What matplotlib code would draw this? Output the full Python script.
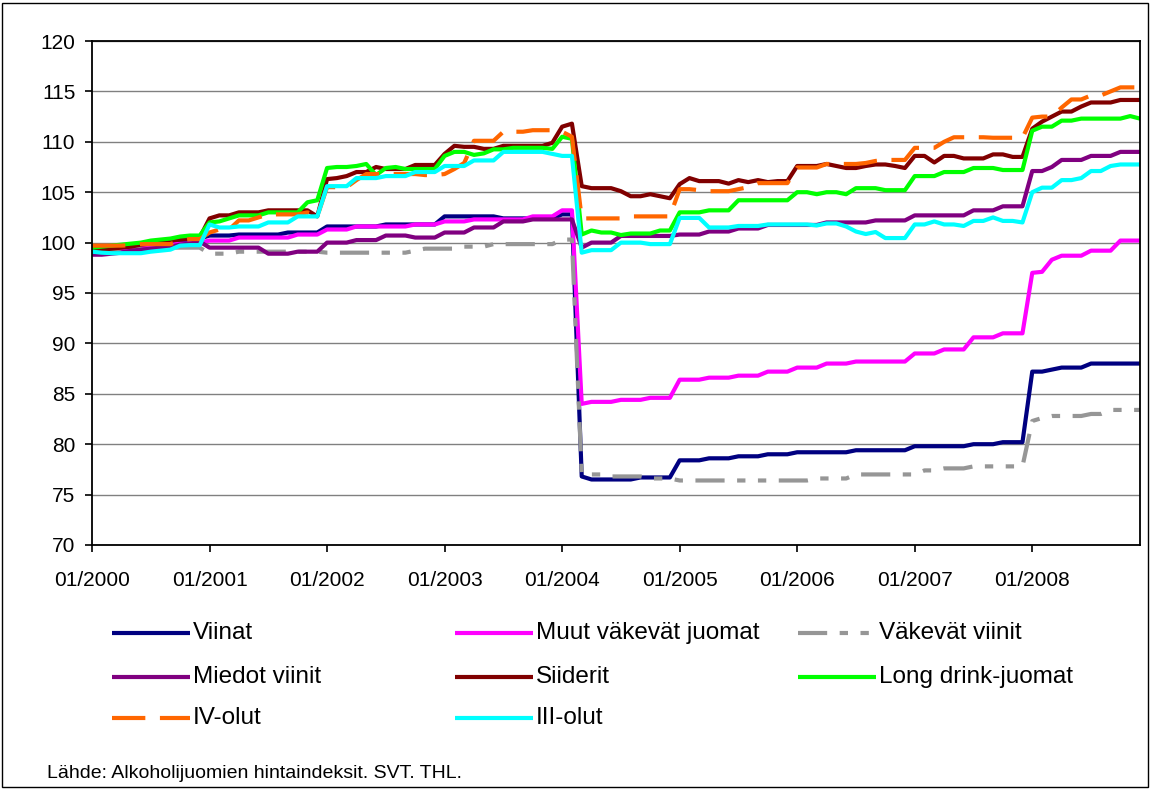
import matplotlib
matplotlib.use("Agg")
import matplotlib.pyplot as plt
from matplotlib.lines import Line2D
from matplotlib.patches import Rectangle

plt.rcParams['font.family'] = ['Liberation Sans', 'DejaVu Sans']

months = [f"{m:02d}/{y}" for y in range(2000, 2009) for m in range(1, 13)]
tick_labels = ["01/2000", "01/2001", "01/2002", "01/2003", "01/2004",
               "01/2005", "01/2006", "01/2007", "01/2008"]

viinat = [
    99.0, 99.0, 99.2, 99.3, 99.5, 99.8, 100.0, 100.0, 100.0, 100.2, 100.3, 100.4,
    100.7, 100.7, 100.7, 100.8, 100.8, 100.8, 100.8, 100.8, 101.0, 101.0, 101.0, 101.0,
    101.6, 101.6, 101.6, 101.6, 101.6, 101.6, 101.8, 101.8, 101.8, 101.8, 101.8, 101.8,
    102.6, 102.6, 102.6, 102.6, 102.6, 102.6, 102.4, 102.4, 102.4, 102.4, 102.4, 102.4,
    102.8, 102.8, 76.8, 76.5, 76.5, 76.5, 76.5, 76.5, 76.7, 76.7, 76.7, 76.7,
    78.4, 78.4, 78.4, 78.6, 78.6, 78.6, 78.8, 78.8, 78.8, 79.0, 79.0, 79.0,
    79.2, 79.2, 79.2, 79.2, 79.2, 79.2, 79.4, 79.4, 79.4, 79.4, 79.4, 79.4,
    79.8, 79.8, 79.8, 79.8, 79.8, 79.8, 80.0, 80.0, 80.0, 80.2, 80.2, 80.2,
    87.2, 87.2, 87.4, 87.6, 87.6, 87.6, 88.0, 88.0, 88.0, 88.0, 88.0, 88.0]

muut_vakevat = [
    99.2, 99.2, 99.3, 99.4, 99.5, 99.6, 99.7, 99.8, 99.8, 99.9, 99.9, 100.0,
    100.2, 100.2, 100.2, 100.5, 100.5, 100.5, 100.5, 100.5, 100.5, 100.8, 100.8, 100.8,
    101.3, 101.3, 101.3, 101.6, 101.6, 101.6, 101.6, 101.6, 101.6, 101.8, 101.8, 101.8,
    102.1, 102.1, 102.1, 102.3, 102.3, 102.3, 102.3, 102.3, 102.3, 102.6, 102.6, 102.6,
    103.2, 103.2, 84.0, 84.2, 84.2, 84.2, 84.4, 84.4, 84.4, 84.6, 84.6, 84.6,
    86.4, 86.4, 86.4, 86.6, 86.6, 86.6, 86.8, 86.8, 86.8, 87.2, 87.2, 87.2,
    87.6, 87.6, 87.6, 88.0, 88.0, 88.0, 88.2, 88.2, 88.2, 88.2, 88.2, 88.2,
    89.0, 89.0, 89.0, 89.4, 89.4, 89.4, 90.6, 90.6, 90.6, 91.0, 91.0, 91.0,
    97.0, 97.1, 98.3, 98.7, 98.7, 98.7, 99.2, 99.2, 99.2, 100.2, 100.2, 100.2]

vakevat_viinit = [
    99.3, 99.3, 99.3, 99.3, 99.4, 99.4, 99.4, 99.4, 99.5, 99.5, 99.5, 99.5,
    98.9, 98.9, 98.9, 99.1, 99.1, 99.1, 99.1, 99.1, 99.1, 99.1, 99.1, 99.1,
    99.0, 99.0, 99.0, 99.0, 99.0, 99.0, 99.0, 99.0, 99.0, 99.2, 99.4, 99.4,
    99.4, 99.4, 99.6, 99.6, 99.6, 99.85, 99.85, 99.85, 99.85, 99.85, 99.85, 99.85,
    100.3, 100.3, 77.0, 77.0, 77.0, 76.8, 76.8, 76.8, 76.8, 76.6, 76.6, 76.6,
    76.4, 76.4, 76.4, 76.4, 76.4, 76.4, 76.4, 76.4, 76.4, 76.4, 76.4, 76.4,
    76.4, 76.4, 76.6, 76.6, 76.6, 76.6, 77.0, 77.0, 77.0, 77.0, 77.0, 77.0,
    77.0, 77.4, 77.4, 77.6, 77.6, 77.6, 77.8, 77.8, 77.8, 77.8, 77.8, 77.8,
    82.3, 82.6, 82.8, 82.8, 82.8, 82.8, 83.0, 83.0, 83.4, 83.4, 83.4, 83.4]

miedot_viinit = [
    98.8, 98.8, 98.9, 99.0, 99.2, 99.3, 99.4, 99.5, 99.6, 99.8, 99.9, 100.1,
    99.5, 99.5, 99.5, 99.5, 99.5, 99.5, 98.9, 98.9, 98.9, 99.1, 99.1, 99.1,
    100.0, 100.0, 100.0, 100.25, 100.25, 100.25, 100.7, 100.7, 100.7, 100.5, 100.5, 100.5,
    101.0, 101.0, 101.0, 101.5, 101.5, 101.5, 102.1, 102.1, 102.1, 102.3, 102.3, 102.3,
    102.3, 102.3, 99.5, 100.0, 100.0, 100.0, 100.66, 100.66, 100.66, 100.66, 100.66, 100.66,
    100.8, 100.8, 100.8, 101.1, 101.1, 101.1, 101.4, 101.4, 101.4, 101.75, 101.75, 101.75,
    101.75, 101.75, 101.75, 102.0, 102.0, 102.0, 102.0, 102.0, 102.2, 102.2, 102.2, 102.2,
    102.7, 102.7, 102.7, 102.7, 102.7, 102.7, 103.2, 103.2, 103.2, 103.6, 103.6, 103.6,
    107.1, 107.1, 107.5, 108.2, 108.2, 108.2, 108.6, 108.6, 108.6, 109.0, 109.0, 109.0]

siiderit = [
    99.3, 99.3, 99.4, 99.5, 99.6, 99.8, 99.9, 100.0, 100.2, 100.3, 100.4, 100.5,
    102.4, 102.7, 102.7, 103.0, 103.0, 103.0, 103.2, 103.2, 103.2, 103.2, 103.2, 102.6,
    106.3, 106.4, 106.6, 107.0, 107.0, 107.5, 107.3, 107.3, 107.3, 107.7, 107.7, 107.7,
    108.8, 109.6, 109.5, 109.5, 109.3, 109.3, 109.6, 109.6, 109.6, 109.6, 109.6, 109.9,
    111.5, 111.8, 105.6, 105.4, 105.4, 105.4, 105.1, 104.6, 104.6, 104.8, 104.6, 104.4,
    105.8, 106.4, 106.1, 106.1, 106.1, 105.85, 106.2, 106.0, 106.2, 106.0, 106.1, 106.1,
    107.6, 107.6, 107.6, 107.8, 107.6, 107.4, 107.4, 107.6, 107.75, 107.75, 107.6, 107.4,
    108.6, 108.6, 107.95, 108.6, 108.6, 108.35, 108.35, 108.35, 108.75, 108.75, 108.5, 108.5,
    111.3, 112.0, 112.5, 113.0, 113.0, 113.5, 113.9, 113.9, 113.9, 114.15, 114.15, 114.15]

long_drink = [
    99.5, 99.6, 99.7, 99.8, 99.9, 100.0, 100.2, 100.3, 100.4, 100.6, 100.7, 100.7,
    102.0, 102.1, 102.4, 102.7, 102.7, 102.7, 103.0, 103.0, 103.0, 103.0, 104.0, 104.2,
    107.4, 107.5, 107.5, 107.6, 107.8, 106.7, 107.4, 107.5, 107.3, 107.3, 107.3, 107.3,
    108.6, 109.0, 109.0, 108.7, 108.85, 109.25, 109.25, 109.4, 109.4, 109.4, 109.4, 109.3,
    110.5, 110.3, 100.8, 101.2, 101.0, 101.0, 100.75, 100.9, 100.9, 100.9, 101.2, 101.2,
    103.0, 103.0, 103.0, 103.2, 103.2, 103.2, 104.2, 104.2, 104.2, 104.2, 104.2, 104.2,
    105.0, 105.0, 104.8, 105.0, 105.0, 104.8, 105.4, 105.4, 105.4, 105.2, 105.2, 105.2,
    106.6, 106.6, 106.6, 107.0, 107.0, 107.0, 107.4, 107.4, 107.4, 107.2, 107.2, 107.2,
    111.1, 111.5, 111.5, 112.1, 112.1, 112.3, 112.3, 112.3, 112.3, 112.3, 112.55, 112.3]

iv_olut = [
    99.7, 99.7, 99.7, 99.7, 99.75, 99.85, 99.85, 99.85, 99.85, 100.2, 100.35, 100.35,
    101.0, 101.3, 101.3, 102.2, 102.2, 102.5, 102.8, 102.8, 102.8, 102.8, 103.0, 102.6,
    105.5, 105.5, 105.5, 106.2, 106.8, 106.8, 106.8, 106.8, 106.8, 106.8, 106.7, 106.7,
    106.8, 107.3, 107.9, 110.1, 110.1, 110.1, 111.0, 111.0, 111.0, 111.15, 111.15, 111.15,
    111.0, 110.5, 102.4, 102.4, 102.4, 102.4, 102.4, 102.6, 102.6, 102.6, 102.6, 102.6,
    105.3, 105.3, 105.2, 105.1, 105.1, 105.1, 105.3, 105.5, 105.9, 105.9, 105.9, 105.9,
    107.45, 107.45, 107.45, 107.8, 107.8, 107.8, 107.8, 107.9, 108.1, 108.2, 108.2, 108.2,
    109.4, 109.4, 109.4, 110.0, 110.45, 110.45, 110.45, 110.45, 110.4, 110.4, 110.4, 110.4,
    112.4, 112.5, 112.5, 113.4, 114.2, 114.2, 114.6, 114.6, 115.0, 115.4, 115.4, 115.4]

iii_olut = [
    99.1, 99.0, 98.95, 98.95, 98.95, 98.95, 99.1, 99.2, 99.3, 99.7, 99.75, 99.75,
    101.8, 101.5, 101.5, 101.6, 101.6, 101.6, 102.0, 102.0, 102.0, 102.6, 102.6, 102.6,
    105.6, 105.6, 105.6, 106.4, 106.4, 106.4, 106.6, 106.6, 106.6, 107.0, 107.0, 107.0,
    107.6, 107.6, 107.6, 108.15, 108.15, 108.15, 109.0, 109.0, 109.0, 109.0, 109.0, 108.8,
    108.6, 108.6, 99.0, 99.25, 99.25, 99.25, 100.0, 100.0, 100.0, 99.85, 99.85, 99.85,
    102.45, 102.45, 102.45, 101.5, 101.5, 101.5, 101.65, 101.65, 101.65, 101.8, 101.8, 101.8,
    101.8, 101.8, 101.7, 101.9, 101.9, 101.6, 101.1, 100.85, 101.05, 100.45, 100.45, 100.45,
    101.8, 101.8, 102.1, 101.8, 101.8, 101.65, 102.15, 102.15, 102.5, 102.15, 102.15, 102.0,
    105.0, 105.45, 105.45, 106.2, 106.2, 106.4, 107.1, 107.1, 107.6, 107.75, 107.75, 107.75]

series = [
    ("Viinat", viinat, "#000080", None),
    ("Muut väkevät juomat", muut_vakevat, "#FF00FF", None),
    ("Väkevät viinit", vakevat_viinit, "#969696", (7, 3, 2, 3, 2, 3)),
    ("Miedot viinit", miedot_viinit, "#800080", None),
    ("Siiderit", siiderit, "#800000", None),
    ("Long drink-juomat", long_drink, "#00FF00", None),
    ("IV-olut", iv_olut, "#FF6600", (8, 3.5)),
    ("III-olut", iii_olut, "#00FFFF", None),
]

W, H = 1151, 789
fig = plt.figure(figsize=(W / 100, H / 100), dpi=100)
L, R, T, B = 92, 1140, 41, 545
ax = fig.add_axes([L / W, 1 - B / H, (R - L) / W, (B - T) / H])

x = list(range(len(months)))
handles = []
for name, vals, col, dashes in series:
    kw = dict(color=col, lw=3.0, label=name, solid_joinstyle='round',
              dash_capstyle='butt')
    if dashes is not None:
        ln, = ax.plot(x, vals, linestyle='--', dashes=dashes, **kw)
    else:
        ln, = ax.plot(x, vals, **kw)
    handles.append(ln)

ax.set_xlim(0, len(months) - 1)
ax.set_ylim(70, 120)
ax.set_yticks(range(70, 121, 5))
ax.set_xticks([months.index(t) for t in tick_labels])
ax.set_xticklabels(tick_labels)
ax.grid(axis='y', color='#808080', lw=1.0)
ax.set_axisbelow(True)
for s in ax.spines.values():
    s.set_color('black')
    s.set_linewidth(1.3)
ax.tick_params(axis='y', direction='out', length=5, width=1.2, pad=7,
               labelsize=15, colors='black')
ax.tick_params(axis='x', direction='out', length=5, width=1.2, pad=14,
               labelsize=15, colors='black')

# legend (manual layout, 3 columns, row-major like the original)
col_x = [112, 455, 798]
row_y = [633, 677, 718]
for k, (name, vals, col, dashes) in enumerate(series):
    r, c = divmod(k, 3)
    x0 = col_x[c]
    y0 = row_y[r]
    line = Line2D([x0 / W, (x0 + 78) / W], [1 - y0 / H, 1 - y0 / H],
                  color=col, lw=3.0, transform=fig.transFigure,
                  solid_capstyle='butt', dash_capstyle='butt')
    if dashes is not None:
        line.set_linestyle('--')
        line.set_dashes(dashes)
    fig.add_artist(line)
    fig.text((x0 + 81) / W, 1 - y0 / H, name, fontsize=17.5,
             va='center', ha='left', color='black')

fig.text(47 / W, 1 - 773 / H, "Lähde: Alkoholijuomien hintaindeksit. SVT. THL.",
         fontsize=14, va='center', ha='left', color='black')

fig.add_artist(Rectangle((2 / W, 2 / H), (W - 5) / W, (H - 5) / H,
                         transform=fig.transFigure, fill=False,
                         edgecolor='black', lw=1.0))

fig.savefig("out.png", dpi=100)
